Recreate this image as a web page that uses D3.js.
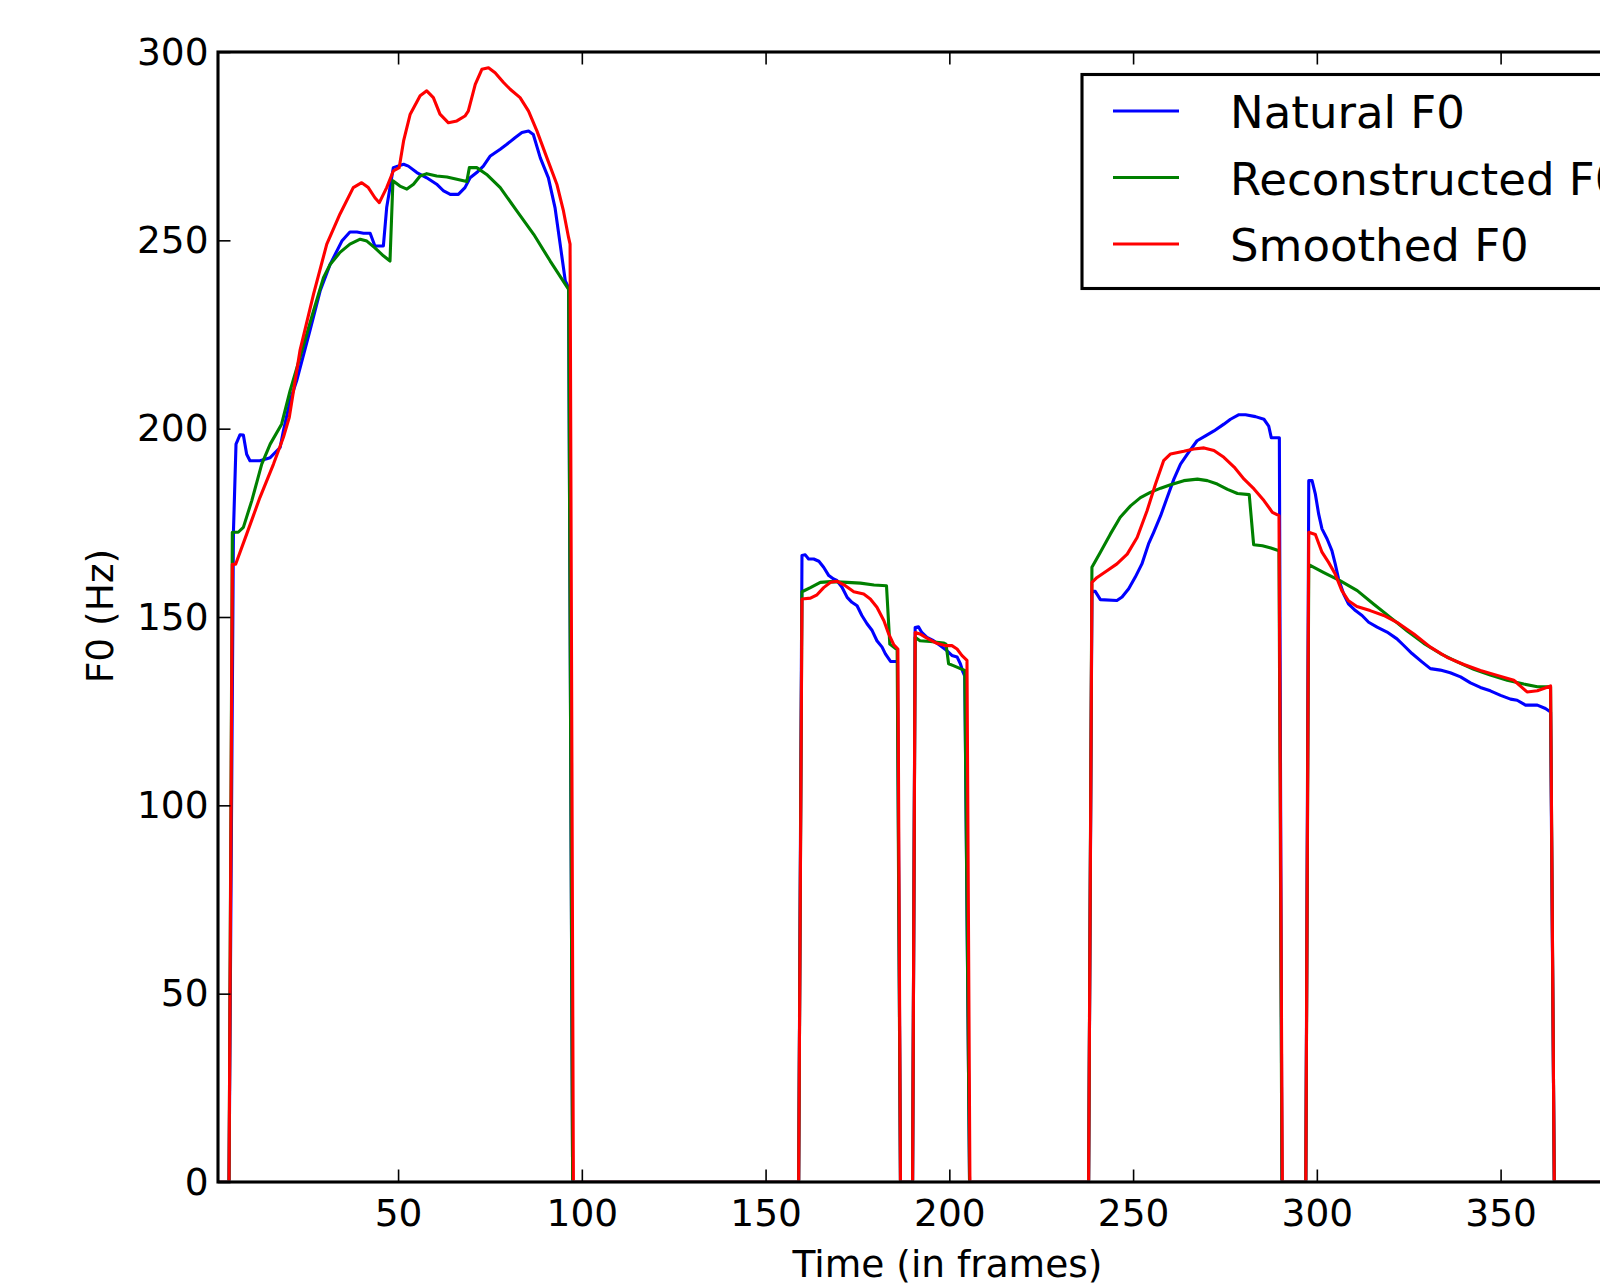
<!DOCTYPE html>
<html>
<head>
<meta charset="utf-8">
<title>F0 contours</title>
<script src="https://cdn.jsdelivr.net/npm/d3@7"></script>
<style>
  html, body { margin: 0; padding: 0; background: #ffffff; }
  svg { display: block; font-family: "DejaVu Sans", sans-serif; }
</style>
</head>
<body>
<svg id="chart"></svg>
<script>
// F0 contours, [frame, Hz]; 0 = unvoiced frame
const naturalF0 = [
    [1, 0], [4, 0],
    [5.2, 172.5], [5.9, 195.9], [7.0, 198.4], [7.9, 198.3], [8.8, 193.2], [9.7, 191.5], [12.4, 191.5],
    [15.2, 192.3], [17.9, 195], [18.8, 199.4], [20.6, 207.4], [22.4, 212.7], [26, 226], [28.8, 236.6],
    [31.5, 243.6], [34.7, 249.8], [36.9, 252.2], [38.8, 252.2], [40.6, 251.9], [42.4, 251.9], [43.7, 248.5],
    [46, 248.5], [46.9, 258.7], [48.7, 269.3], [51.5, 270.2], [52.8, 269.7], [55.1, 268], [57.8, 266.6],
    [60.5, 264.9], [62.4, 263.1], [64.2, 262.2], [66.4, 262.2], [68.2, 264], [69.6, 266.6], [71.4, 268],
    [73.2, 269.7], [75.1, 272.4], [77.8, 274.2], [79.6, 275.5], [81.9, 277.3], [83.7, 278.6], [85.5, 279],
    [86.8, 278.1], [88.7, 271.9], [90.9, 266.6], [92.7, 258.7], [94.1, 249], [95.5, 239.2], [96.4, 237.4],
    [97.5, 0], [159, 0],
    [159.9, 166.3], [160.8, 166.5], [161.7, 165.4], [163.1, 165.4], [164.5, 164.8], [165.8, 163.2],
    [167.2, 161], [168.5, 160.1], [169.4, 159.7], [170.8, 157.9], [172.2, 155.2], [173.5, 153.9],
    [174.9, 153], [176.2, 150.4], [177.6, 148.2], [179, 146.4], [180.3, 143.7], [181.7, 142], [182.6, 140.2],
    [184, 138.2], [185.9, 138.2], [186.7, 0], [190, 0],
    [190.7, 147.2], [191.6, 147.4], [192.5, 145.9], [193.9, 144.6], [195.7, 143.7], [197.5, 142.4],
    [199.3, 141.1], [200.7, 139.8], [202.1, 139.4], [203, 137.6], [203.7, 135.4], [204.2, 134.3],
    [205.5, 0], [237.9, 0],
    [238.8, 156.8], [239.7, 156.8], [241.1, 154.6], [245.6, 154.4], [247, 155.3], [248.8, 157.5],
    [250.6, 160.6], [252.4, 164.1], [254.2, 169.4], [255.6, 172.5], [257.5, 176.9], [259.3, 181.8],
    [261.1, 186.6], [262.9, 190.6], [265.1, 193.7], [267.4, 196.8], [269.7, 198.1], [272, 199.4],
    [274.7, 201.2], [276.5, 202.5], [278.8, 203.7], [280.6, 203.7], [283.3, 203.2], [285.6, 202.5],
    [286.9, 200.7], [287.6, 197.6], [289.8, 197.6], [290.5, 0], [297, 0],
    [297.8, 186.2], [298.7, 186.2], [299.6, 182.6], [300.5, 177.3], [301.4, 173.4], [302.8, 170.7],
    [304.1, 167.6], [305, 164.1], [305.9, 160.1], [307.3, 156.1], [308.6, 153.5], [310.5, 151.7],
    [312.3, 150.4], [314.1, 148.6], [316.4, 147.3], [319.1, 146], [321.8, 144.2], [323.6, 142.5],
    [325.9, 140.3], [328.6, 138.1], [330.9, 136.3], [333.6, 135.9], [336.3, 135.2], [339.1, 134.1],
    [341.8, 132.5], [344.5, 131.3], [347.2, 130.4], [350, 129.2], [352.7, 128.2], [354.5, 127.9],
    [356.8, 126.6], [360, 126.6], [362.2, 125.7], [363.6, 124.8], [364.6, 0], [398, 0]
];

const reconstructedF0 = [
    [1, 0], [4, 0],
    [4.9, 172.5], [6.5, 172.5], [7.9, 173.8], [10.2, 180.9], [12.9, 190.6], [15.2, 195.9], [18.3, 201.2],
    [20.6, 210], [23.3, 218.9], [27, 231.3], [29.7, 240.1], [31.5, 243.6], [34.2, 246.8], [36.9, 249],
    [39.7, 250.3], [41.5, 249.8], [43.7, 248], [46, 245.9], [47.8, 244.5], [48.6, 265.8], [50.5, 264.4],
    [52.4, 263.6], [54.2, 264.9], [56, 267.1], [57.8, 267.7], [60.5, 267.1], [63.3, 266.8], [66, 266.2],
    [68.7, 265.6], [69.4, 269.3], [71.4, 269.3], [74.1, 267.5], [77.8, 264], [82.3, 257.8], [86.9, 251.6],
    [91.4, 244.5], [96.4, 237],
    [97.5, 0], [159, 0],
    [159.9, 156.7], [162.2, 157.8], [164.9, 159.2], [167.7, 159.4], [172.2, 159.2], [175.8, 159],
    [179.5, 158.5], [182.9, 158.3], [183.8, 142.8], [185.8, 141.3],
    [186.7, 0], [190, 0],
    [190.7, 144.6], [192, 143.7], [194.8, 143.5], [198.4, 143.1], [199.1, 142.8], [199.8, 137.6],
    [201.1, 137.1], [203, 136.3], [204.2, 135.8],
    [205.5, 0], [237.9, 0],
    [238.8, 163.2], [241.1, 167.2], [243.8, 172], [246.5, 176.5], [249.3, 179.5], [252, 181.7],
    [254.7, 183.1], [257.5, 184.2], [260.2, 185.1], [263.8, 186.2], [267.5, 186.6], [270.2, 186.2],
    [272.9, 185.3], [275.7, 183.9], [278.4, 182.8], [281.6, 182.5], [282.8, 169.2], [285.2, 168.9],
    [287.5, 168.3], [289.7, 167.6],
    [290.5, 0], [297, 0],
    [297.8, 163.9], [301.9, 161.8], [306.4, 159.6], [311, 157], [315.5, 153.4], [320, 149.9],
    [324.6, 146.3], [329.1, 143], [333.6, 140.3], [338.2, 138.1], [342.7, 136.1], [347.2, 134.6],
    [351.8, 133.2], [356.3, 132.2], [360, 131.5], [363.6, 131.5],
    [364.6, 0], [398, 0]
];

const smoothedF0 = [
    [1, 0], [4, 0],
    [4.9, 164], [5.8, 164], [8.8, 172], [12.4, 181.7], [16.1, 190.6], [18.8, 197.7], [20.4, 203],
    [23.3, 220.7], [27, 235.7], [30.6, 249], [34.2, 257], [37.8, 264], [40.1, 265.3], [41.9, 264],
    [43.7, 261.3], [44.9, 260], [46.9, 264], [48.7, 268.4], [50.3, 269.3], [51.5, 276.4], [53.3, 283.5],
    [56, 288.4], [57.8, 289.7], [59.6, 287.9], [61.4, 283.5], [63.7, 281.2], [66, 281.7], [68.2, 283],
    [69.1, 284.3], [71, 291.4], [72.8, 295.4], [74.6, 295.8], [76.4, 294.5], [78.7, 291.9], [80.5, 290.1],
    [83.2, 287.9], [85.5, 284.3], [87.8, 279], [90.5, 271.9], [93.2, 264.9], [95, 257.8], [96.4, 250.7],
    [96.8, 249],
    [97.7, 0], [159, 0],
    [159.9, 154.8], [162.2, 155], [164, 155.9], [165.8, 157.8], [167.7, 159.2], [169.4, 159.5],
    [171.7, 158.3], [174, 156.7], [176.7, 156.1], [178.5, 154.8], [180.3, 152.6], [182.2, 149],
    [183.5, 145.5], [184.9, 142.6], [186, 141.5],
    [186.7, 0], [190, 0],
    [190.7, 145.9], [192, 145.5], [193.9, 144.4], [196.6, 143], [198.9, 142.4], [200.7, 142.4],
    [202.1, 141.5], [203.4, 139.8], [204.8, 138.5],
    [205.6, 0], [237.9, 0],
    [238.8, 159.2], [240.2, 160.5], [242.9, 162.3], [245.6, 164.1], [248.4, 166.7], [251.1, 171.1],
    [253.8, 178.2], [256.1, 185.3], [258.3, 191.5], [260.2, 193.3], [263.8, 194], [266.5, 194.6],
    [269.3, 194.9], [272, 194.2], [274.7, 192.4], [277.5, 189.8], [280.2, 186.6], [282.9, 184],
    [285.6, 180.9], [287.9, 177.8], [289.7, 176.9],
    [290.6, 0], [297, 0],
    [297.8, 172.5], [299.6, 171.9], [301.4, 167.2], [303.2, 164.5], [305, 161.4], [306.8, 157],
    [308.6, 154.3], [310.9, 152.8], [314.5, 151.7], [318.2, 150.4], [321.8, 148.6], [326.4, 145.5],
    [330.9, 142], [335.4, 139.3], [340, 137.4], [344.5, 135.8], [349.1, 134.5], [353.6, 133.2],
    [357.2, 130.1], [360, 130.4], [363.6, 131.7],
    [364.6, 0], [398, 0]
];

const seriesNames = ['Natural F0', 'Reconstructed F0', 'Smoothed F0'];
const xTicks = [50, 100, 150, 200, 250, 300, 350];
const yTicks = [0, 50, 100, 150, 200, 250, 300];
const xDomain = [1, 398];
const yDomain = [0, 300];

document.addEventListener('DOMContentLoaded', function() {
    const width = 1600;
    const height = 1285;
    const plot = { left: 218, top: 52, right: 1677, bottom: 1182 };
    const colors = ['#0000ff', '#008000', '#ff0000'];
    const series = [naturalF0, reconstructedF0, smoothedF0];

    const svg = d3.select('#chart')
        .attr('width', width)
        .attr('height', height);

    svg.append('rect')
        .attr('width', width)
        .attr('height', height)
        .attr('fill', '#ffffff');

    const x = d3.scaleLinear().domain(xDomain).range([plot.left, plot.right]);
    const y = d3.scaleLinear().domain(yDomain).range([plot.bottom, plot.top]);

    // clip a bit inside the frame so the zero runs hide under the spine
    svg.append('clipPath')
        .attr('id', 'plot-clip')
        .append('rect')
        .attr('x', plot.left)
        .attr('y', plot.top)
        .attr('width', plot.right - plot.left)
        .attr('height', plot.bottom - plot.top - 1.6);

    // contours, blue first so red ends up on top
    const line = d3.line()
        .x(d => x(d[0]))
        .y(d => y(d[1]));

    svg.append('g')
        .attr('clip-path', 'url(#plot-clip)')
        .selectAll('path')
        .data(series)
        .enter().append('path')
        .attr('d', line)
        .attr('fill', 'none')
        .attr('stroke', (d, i) => colors[i])
        .attr('stroke-width', 3.1)
        .attr('stroke-linejoin', 'round');

    // inward ticks on all four sides, matplotlib classic look
    const tickLen = -12.5;
    const styleAxis = g => {
        g.select('.domain').remove();
        g.selectAll('.tick line').attr('stroke', '#000').attr('stroke-width', 1.6);
        g.selectAll('.tick text')
            .attr('fill', '#000')
            .style('font-family', '"DejaVu Sans", sans-serif')
            .style('font-size', '37.5px');
    };

    svg.append('g')
        .attr('transform', `translate(0,${plot.bottom})`)
        .call(d3.axisBottom(x).tickValues(xTicks).tickSizeInner(tickLen).tickSizeOuter(0).tickPadding(17))
        .call(styleAxis);

    svg.append('g')
        .attr('transform', `translate(0,${plot.top})`)
        .call(d3.axisTop(x).tickValues(xTicks).tickSizeInner(tickLen).tickSizeOuter(0).tickFormat(''))
        .call(styleAxis);

    svg.append('g')
        .attr('transform', `translate(${plot.left},0)`)
        .call(d3.axisLeft(y).tickValues(yTicks).tickSizeInner(tickLen).tickSizeOuter(0).tickPadding(9.5))
        .call(styleAxis);

    svg.append('g')
        .attr('transform', `translate(${plot.right},0)`)
        .call(d3.axisRight(y).tickValues(yTicks).tickSizeInner(tickLen).tickSizeOuter(0).tickFormat(''))
        .call(styleAxis);

    // frame
    svg.append('rect')
        .attr('x', plot.left)
        .attr('y', plot.top)
        .attr('width', plot.right - plot.left)
        .attr('height', plot.bottom - plot.top)
        .attr('fill', 'none')
        .attr('stroke', '#000')
        .attr('stroke-width', 3.1);

    // axis labels
    svg.append('text')
        .attr('x', (plot.left + plot.right) / 2)
        .attr('y', 1277)
        .attr('text-anchor', 'middle')
        .style('font-size', '37.5px')
        .text('Time (in frames)');

    svg.append('text')
        .attr('transform', `translate(112.5,${(plot.top + plot.bottom) / 2 - 1}) rotate(-90)`)
        .attr('text-anchor', 'middle')
        .style('font-size', '37.5px')
        .text('F0 (Hz)');

    // legend (runs off the right edge like the reference)
    const legend = svg.append('g').attr('transform', 'translate(1082,74.5)');

    legend.append('rect')
        .attr('width', 700)
        .attr('height', 214)
        .attr('fill', '#ffffff')
        .attr('stroke', '#000')
        .attr('stroke-width', 3.1);

    const rowGap = 66.5;
    const item = legend.selectAll('.item')
        .data(seriesNames)
        .enter().append('g')
        .attr('class', 'item')
        .attr('transform', (d, i) => `translate(0,${36.5 + i * rowGap})`);

    item.append('line')
        .attr('x1', 31)
        .attr('x2', 97)
        .attr('stroke', (d, i) => colors[i])
        .attr('stroke-width', 3.1);

    item.append('text')
        .attr('x', 148)
        .attr('y', 17)
        .style('font-size', '45px')
        .text(d => d);
});
</script>
</body>
</html>
